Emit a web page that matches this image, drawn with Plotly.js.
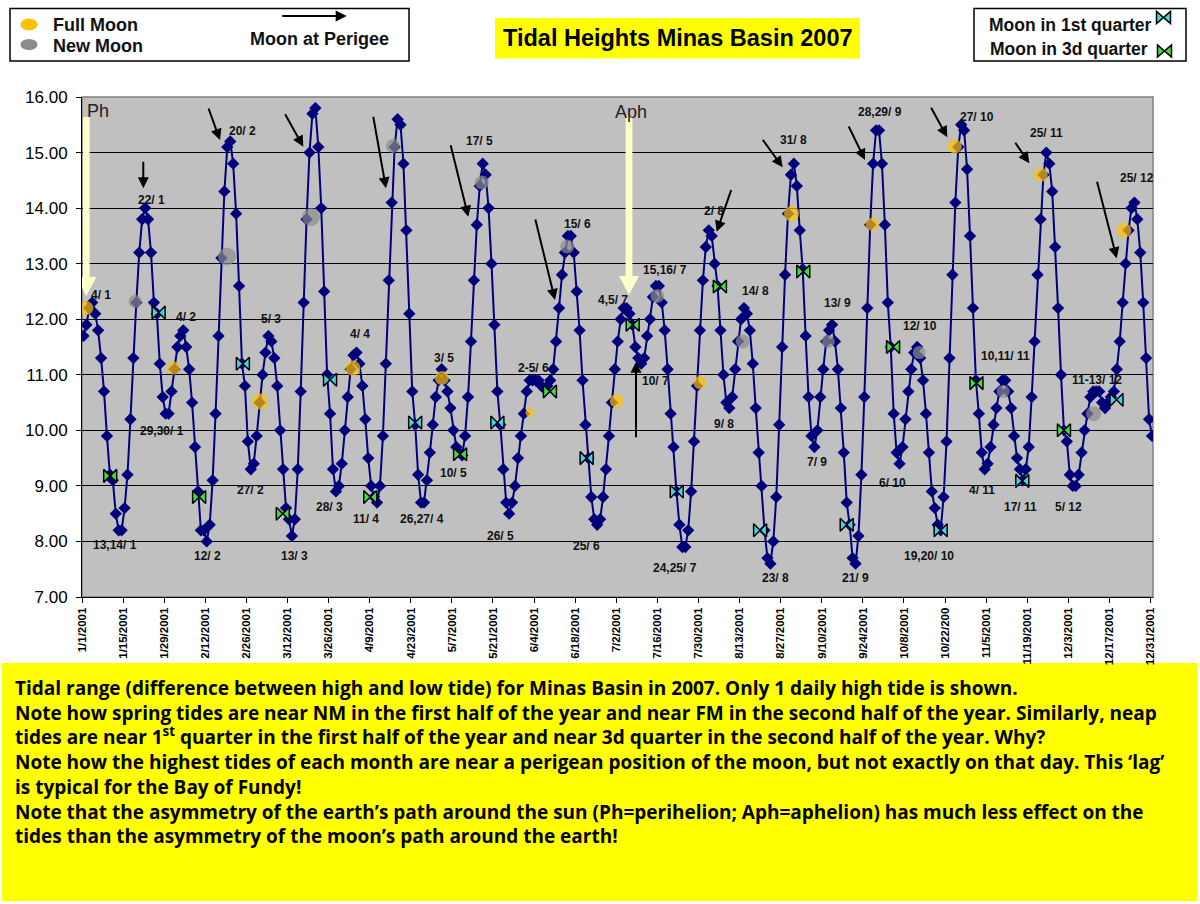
<!DOCTYPE html>
<html>
<head>
<meta charset="utf-8">
<script src="https://cdn.plot.ly/plotly-3.0.1.min.js"></script>
<style>html,body{margin:0;padding:0;background:#fff;}#chart{width:1200px;height:904px;}</style>
</head>
<body>
<div id="chart"></div>
<script>
// ---- daily high tide heights (one value per day) ----
const jan = [11.7,11.9,12.2,12.3,12.1,11.8,11.3,10.7,9.9,9.2,9.1,8.5,8.2,8.2,8.6,9.2,10.2,11.3,12.3,13.2,13.8,14.0,13.8,13.2,12.3,12.1,11.2,10.6,10.3,10.3,10.7];
const feb = [11.1,11.5,11.7,11.8,11.5,11.1,10.5,9.7,8.9,8.2,8.2,8.0,8.3,9.1,10.3,11.7,13.1,14.3,15.1,15.2,14.8,13.9,12.6,11.2,10.8,9.8,9.3,9.4];
const mar = [9.9,10.5,11.0,11.4,11.7,11.6,11.3,10.8,10.0,9.3,8.6,8.4,8.1,8.4,9.3,10.7,12.3,13.8,15.0,15.7,15.8,15.1,14.0,12.5,11.0,10.3,9.3,8.9,9.0,9.4,10.0];
const apr = [10.6,11.1,11.35,11.4,11.2,10.8,10.2,9.5,9.0,8.8,8.7,9.0,9.9,11.2,12.7,14.1,15.1,15.6,15.5,14.8,13.6,12.1,10.7,10.1,9.2,8.7,8.7,9.1,9.6,10.1];
const may = [10.6,10.9,11.1,10.9,10.7,10.4,10.0,9.7,9.6,9.55,9.9,10.6,11.6,12.7,13.7,14.4,14.8,14.6,14.0,13.0,11.9,10.7,10.1,9.3,8.7,8.5,8.7,9.0,9.5,9.9,10.3];
const jun = [10.7,10.9,10.9,10.9,10.9,10.8,10.75,10.8,10.9,11.1,11.6,12.2,12.8,13.2,13.5,13.5,13.2,12.5,11.8,10.9,10.1,9.5,8.8,8.4,8.3,8.4,8.8,9.3,9.9,10.5];
const jul = [11.1,11.6,12.0,12.2,12.2,12.1,11.9,11.5,11.3,11.2,11.3,11.7,12.0,12.4,12.6,12.6,12.3,11.8,11.1,10.3,9.7,8.9,8.3,7.9,7.9,8.2,8.9,9.8,10.8,11.8,12.7];
const aug = [13.3,13.6,13.5,13.0,12.6,11.8,11.0,10.5,10.4,10.6,11.1,11.6,12.0,12.2,12.1,11.8,11.2,10.4,9.6,9.0,8.2,7.7,7.6,8.0,8.8,10.1,11.5,12.8,13.9,14.6,14.8];
const sep = [14.4,13.6,12.9,11.7,10.6,9.9,9.7,10.0,10.6,11.1,11.6,11.8,11.9,11.6,11.1,10.4,9.6,8.7,8.3,7.7,7.6,8.1,9.2,10.6,12.2,13.7,14.8,15.4,15.4,14.8];
const oct = [13.7,12.3,11.5,10.3,9.6,9.4,9.7,10.2,10.7,11.1,11.4,11.5,11.3,10.9,10.3,9.6,8.9,8.6,8.3,8.2,8.8,9.8,11.3,12.8,14.1,15.1,15.5,15.4,14.7,13.5,12.2];
const nov = [10.9,10.3,9.6,9.3,9.4,9.7,10.1,10.4,10.7,10.9,10.9,10.7,10.4,9.9,9.5,9.3,9.1,9.3,9.7,10.6,11.6,12.8,13.8,14.6,15.0,14.8,14.3,13.3,12.2,11.0];
const dec = [10.0,9.8,9.2,9.0,9.0,9.2,9.6,10.0,10.3,10.6,10.7,10.7,10.7,10.5,10.4,10.5,10.6,10.7,11.1,11.6,12.3,13.0,13.6,14.0,14.1,13.8,13.2,12.3,11.3,10.2,9.9];

// ---- moon phases: day of year (days after 1 Jan) and height where drawn ----
const fullMoonDay    = [1.46,31.2,60.7,92.3,122.6,152.6,182.2,210.5,241.7,269.2,297.3,326.6,354.9];
const fullMoonHeight = [12.2,11.12,10.52,11.12,10.94,10.32,10.53,10.86,13.9,13.71,15.11,14.6,13.6];
const newMoonDay     = [18.1,49.4,78.0,105.9,136.2,165.3,196.0,225.1,254.2,285.2,313.8,344.6];
const newMoonHeight  = [12.32,13.13,13.84,15.12,14.46,13.31,12.42,11.6,11.6,11.4,10.7,10.3];
const firstQDay      = [26.1,54.8,84.5,113.5,141.5,171.9,202.6,231.0,260.5,292.5,320.3,352.4];
const firstQHeight   = [12.12,11.2,10.91,10.14,10.14,9.5,8.9,8.2,8.3,8.2,9.09,10.55];
const thirdQDay      = [9.6,39.9,68.4,98.2,128.8,159.4,187.6,217.3,245.7,276.3,304.7,334.5];
const thirdQHeight   = [9.18,8.8,8.5,8.8,9.57,10.7,11.9,12.59,12.86,11.5,10.85,10.0];

// ---- tick labels (every 14 days) ----
const tickLabels = ['1/1/2001','1/15/2001','1/29/2001','2/12/2001','2/26/2001','3/12/2001','3/26/2001','4/9/2001','4/23/2001','5/7/2001','5/21/2001','6/4/2001','6/18/2001','7/2/2001','7/16/2001','7/30/2001','8/13/2001','8/27/2001','9/10/2001','9/24/2001','10/8/2001','10/22/200','11/5/2001','11/19/2001','12/3/2001','12/17/2001','12/31/2001'];
const yTicks = [7,8,9,10,11,12,13,14,15,16];

// ---- date labels on extremes: text ----
const extremeLabels = ['4/ 1','22/ 1','20/ 2','21/ 3','19/ 4','17/ 5','15/ 6','4,5/ 7','15,16/ 7','2/ 8','31/ 8','14/ 8','13/ 9','28,29/ 9','27/ 10','25/ 11','25/ 12','12/ 10','10,11/ 11','11-13/ 12','13,14/ 1','29,30/ 1','4/ 2','12/ 2','27/ 2','5/ 3','13/ 3','28/ 3','4/ 4','11/ 4','26,27/ 4','3/ 5','10/ 5','26/ 5','2-5/ 6','25/ 6','10/ 7','24,25/ 7','9/ 8','23/ 8','7/ 9','21/ 9','6/ 10','19,20/ 10','4/ 11','17/ 11','5/ 12'];

const noteLines = [
 'Tidal range (difference between high and low tide) for Minas Basin in 2007. Only 1 daily high tide is shown.',
 'Note how spring tides are near NM in the first half of the year and near FM in the second half of the year. Similarly, neap',
 'tides are near 1<sup>st</sup> quarter in the first half of the year and near 3d quarter in the second half of the year. Why?',
 'Note how the highest tides of each month are near a perigean position of the moon, but not exactly on that day. This \u2018lag\u2019',
 'is typical for the Bay of Fundy!',
 'Note that the asymmetry of the earth\u2019s path around the sun (Ph=perihelion; Aph=aphelion) has much less effect on the',
 'tides than the asymmetry of the moon\u2019s path around the earth!'
];

// ---------------------------------------------------------------
const heights = [].concat(jan,feb,mar,apr,may,jun,jul,aug,sep,oct,nov,dec);
const MS = 86400000, T0 = Date.UTC(2001,0,1);
function dayToDate(d){ return new Date(T0 + d*MS).toISOString().slice(0,19).replace('T',' '); }
const dates = heights.map((_,i)=>dayToDate(i+0.5));
const tickVals = tickLabels.map((_,k)=>dayToDate(14*k));

// layout geometry (pixels)
const ML=82, MT=97, PW=1071, PH=500;
const pxX = x => (x-ML)/PW;
const pxY = y => (MT+PH-y)/PH;
const pxToDay = x => (x-ML)/(PW/364.833);
const pxToVal = y => 16-(y-MT)/(PH/9);

const FONT = 'Liberation Sans, Arial, sans-serif';

// label placement (pixel centres in the chart)
const labelPos = [[101,295],[151,200],[242.5,131],[320,94],[403,94],[479,141],[577,224],[613,300],[665,270],[714,211],[793,140],[755,291],[837,303],[880,112],[977,117],[1046,133],[1137,178],[920,326],[1005,356],[1097,380],[115,545],[162,431],[186,317],[207,556],[250.5,490],[271,319],[294,556],[329,507],[360,334],[366,519],[422,519],[444,358],[453,473],[500,536],[533,368],[586,546],[655,381],[675,568],[724,424],[775,578],[817,462],[855.5,578],[892,483],[929,556],[982,490],[1020,507],[1068,507]];

// perigee arrows: head pixel, tail offset
const perigeeArrows = [[143.3,188.3,0,-28],[220,140,-12,-33],[303.3,146.7,-19,-34],[386,188.3,-13,-73],[468.3,216.7,-18,-73],[555,300,-20,-82],[636,361.7,0,77],[716.7,231.7,15,-43],[782.7,167.3,-21,-29],[865,160,-17,-35],[947.3,137.3,-17,-31],[1029.3,163.3,-15,-22],[1116.7,258.3,-20,-78]];

const traces = [
 {x:dates, y:heights, type:'scatter', mode:'lines+markers',
  line:{color:'#00007a', width:2}, marker:{symbol:'diamond', size:9.5, color:'#00007a'}, hoverinfo:'x+y'},
 {x:fullMoonDay.map(dayToDate), y:fullMoonHeight, type:'scatter', mode:'markers',
  marker:{symbol:'circle', size:[14,13,16,15,14,9,14,13,15,13,14,14,15], color:'#FFC000', line:{width:0}}},
 {x:newMoonDay.map(dayToDate), y:newMoonHeight, type:'scatter', mode:'markers',
  marker:{symbol:'circle', size:[13,18,18,14,14,14,14,14,13,13,13,15], color:'#8c8c8c', line:{width:0}}},
 {x:firstQDay.map(dayToDate), y:firstQHeight, type:'scatter', mode:'markers',
  marker:{symbol:'bowtie', size:13, color:'#3cd8e6', line:{color:'#000', width:1.5}}},
 {x:thirdQDay.map(dayToDate), y:thirdQHeight, type:'scatter', mode:'markers',
  marker:{symbol:'bowtie', size:13, color:'#3de03d', line:{color:'#000', width:1.5}}}
];

const annotations = [];
extremeLabels.forEach((t,i)=>{
  annotations.push({x:dayToDate(pxToDay(labelPos[i][0])), y:pxToVal(labelPos[i][1]), xref:'x', yref:'y', text:t, showarrow:false,
    font:{family:FONT, size:12, color:'#111', weight:'bold'}, xanchor:'center', yanchor:'middle'});
});
perigeeArrows.forEach(a=>{
  annotations.push({x:dayToDate(pxToDay(a[0])), y:pxToVal(a[1]), xref:'x', yref:'y', ax:a[2], ay:a[3], text:'', showarrow:true,
    arrowhead:2, arrowsize:1.1, arrowwidth:2, arrowcolor:'#000'});
});
// Ph / Aph texts
annotations.push({x:pxX(85), y:pxY(111), xref:'paper', yref:'paper', text:'Ph', showarrow:false, xanchor:'left', yanchor:'middle', font:{family:FONT, size:18, color:'#222'}});
annotations.push({x:pxX(631), y:pxY(112), xref:'paper', yref:'paper', text:'Aph', showarrow:false, xanchor:'center', yanchor:'middle', font:{family:FONT, size:18, color:'#222'}});
// title
annotations.push({x:pxX(678), y:pxY(38), xref:'paper', yref:'paper', text:'Tidal Heights Minas Basin 2007', showarrow:false, xanchor:'center', yanchor:'middle', font:{family:FONT, size:23.5, color:'#000', weight:'bold'}});
// legend texts
annotations.push({x:pxX(51), y:pxY(25), xref:'paper', yref:'paper', text:'Full Moon', showarrow:false, xanchor:'left', yanchor:'middle', font:{family:FONT, size:18, color:'#111', weight:'bold'}});
annotations.push({x:pxX(51), y:pxY(45.5), xref:'paper', yref:'paper', text:'New Moon', showarrow:false, xanchor:'left', yanchor:'middle', font:{family:FONT, size:18, color:'#111', weight:'bold'}});
annotations.push({x:pxX(319), y:pxY(38.5), xref:'paper', yref:'paper', text:'Moon at Perigee', showarrow:false, xanchor:'center', yanchor:'middle', font:{family:FONT, size:18, color:'#111', weight:'bold'}});
annotations.push({x:pxX(346.7), y:pxY(16), xref:'paper', yref:'paper', ax:-66, ay:0, text:'', showarrow:true, arrowhead:2, arrowsize:1.1, arrowwidth:2, arrowcolor:'#000'});
annotations.push({x:pxX(987), y:pxY(25.5), xref:'paper', yref:'paper', text:'Moon in 1st quarter', showarrow:false, xanchor:'left', yanchor:'middle', font:{family:FONT, size:17.5, color:'#111', weight:'bold'}});
annotations.push({x:pxX(988), y:pxY(48.5), xref:'paper', yref:'paper', text:'Moon in 3d quarter', showarrow:false, xanchor:'left', yanchor:'middle', font:{family:FONT, size:17.5, color:'#111', weight:'bold'}});
// notes: one multi-line block
annotations.push({x:pxX(13), y:pxY(762), xref:'paper', yref:'paper', text:noteLines.join('<br>'), showarrow:false, xanchor:'left', yanchor:'middle', align:'left',
  font:{family:'Open Sans, Lato, sans-serif', size:19, color:'#000', weight:'bold'}});

function bigArrow(anchorDay, anchorVal){
  return {type:'path', xref:'x', yref:'y', xsizemode:'pixel', ysizemode:'pixel', xanchor:dayToDate(anchorDay), yanchor:anchorVal,
    path:'M0,0 L-10,19 L-3.4,19 L-3.4,179 L3.4,179 L3.4,19 L10,19 Z', fillcolor:'#FFFFCC', line:{width:0}, layer:'above'};
}
function bowtieIcon(cx, cy, color){
  return {type:'path', xref:'paper', yref:'paper', xsizemode:'pixel', ysizemode:'pixel', xanchor:pxX(cx), yanchor:pxY(cy),
    path:'M7,6 V-6 L-7,6 V-6 Z', fillcolor:color, line:{color:'#000', width:1.5}, layer:'above'};
}
const shapes = [
  {type:'rect', xref:'paper', yref:'paper', x0:0, x1:1, y0:0, y1:1, line:{color:'#808080', width:1.5}, layer:'below'},
  bigArrow(pxToDay(86.3), pxToVal(296)),
  bigArrow(pxToDay(629), pxToVal(295)),
  {type:'rect', xref:'paper', yref:'paper', x0:pxX(495), x1:pxX(860), y0:pxY(58.5), y1:pxY(18), fillcolor:'#FFFF00', line:{width:0}, layer:'above'},
  {type:'rect', xref:'paper', yref:'paper', x0:pxX(10), x1:pxX(409), y0:pxY(61), y1:pxY(8.5), fillcolor:'rgba(0,0,0,0)', line:{color:'#000', width:1.5}, layer:'above'},
  {type:'rect', xref:'paper', yref:'paper', x0:pxX(974), x1:pxX(1186), y0:pxY(61), y1:pxY(8.5), fillcolor:'rgba(0,0,0,0)', line:{color:'#000', width:1.5}, layer:'above'},
  {type:'circle', xref:'paper', yref:'paper', x0:pxX(20.5), x1:pxX(37.5), y0:pxY(30.5), y1:pxY(18.5), fillcolor:'#FFC000', line:{width:0}, layer:'above'},
  {type:'circle', xref:'paper', yref:'paper', x0:pxX(20.5), x1:pxX(37.5), y0:pxY(50), y1:pxY(39), fillcolor:'#8c8c8c', line:{width:0}, layer:'above'},
  bowtieIcon(1163.5, 17.5, '#3cd8e6'),
  bowtieIcon(1164.5, 51, '#3de03d'),
  {type:'rect', xref:'paper', yref:'paper', x0:pxX(2), x1:pxX(1197), y0:pxY(901), y1:pxY(663), fillcolor:'#FFFF00', line:{width:0}, layer:'below'}
];

const layout = {
  width:1200, height:904, margin:{l:ML, r:1200-ML-PW, t:MT, b:904-MT-PH, pad:0},
  paper_bgcolor:'#ffffff', plot_bgcolor:'#C0C0C0', showlegend:false,
  xaxis:{type:'date', range:[dayToDate(0), dayToDate(364.833)], tickmode:'array', tickvals:tickVals, ticktext:tickLabels,
    tickangle:-90, ticks:'outside', ticklen:5, tickcolor:'#000', showgrid:false, showline:true, linecolor:'#000', linewidth:1,
    tickfont:{family:FONT, size:11.5, color:'#000', weight:'bold'}, zeroline:false, fixedrange:true},
  yaxis:{range:[7,16], tickmode:'array', tickvals:yTicks, ticktext:yTicks.map(v=>v.toFixed(2)), ticks:'outside', ticklen:5, tickcolor:'#000',
    showgrid:true, gridcolor:'#000', gridwidth:1, showline:true, linecolor:'#000', linewidth:1, zeroline:false,
    tickfont:{family:FONT, size:17, color:'#000'}, ticklabelstandoff:5, fixedrange:true},
  annotations:annotations, shapes:shapes
};

Plotly.newPlot('chart', traces, layout, {displayModeBar:false, staticPlot:true});
</script>
</body>
</html>
